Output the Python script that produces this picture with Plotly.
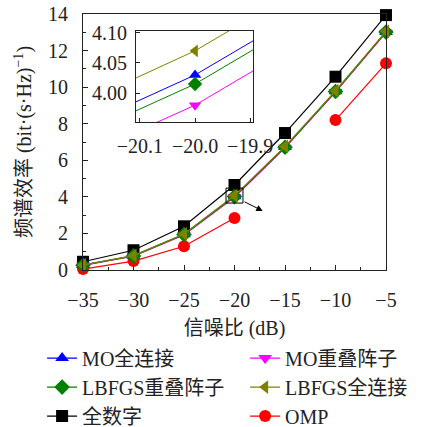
import plotly.graph_objects as go

snr = [-35, -30, -25, -20, -15, -10, -5]
full_digital = [0.45, 1.08, 2.39, 4.65, 7.49, 10.57, 13.94]
lbfgs_full = [0.28, 0.79, 1.97, 4.07, 6.76, 9.80, 13.05]
mo_full = [0.27, 0.78, 1.95, 4.03, 6.72, 9.77, 13.02]
lbfgs_overlap = [0.26, 0.77, 1.94, 4.015, 6.71, 9.76, 13.01]
mo_overlap = [0.25, 0.75, 1.92, 3.98, 6.68, 9.73, 12.98]
omp = [0.05, 0.49, 1.30, 2.84, None, 8.20, 11.30]

FONT = "Liberation Serif, Noto Sans CJK SC, serif"

series = [
    # name, values, color, symbol, legend, legendrank
    ("OMP", omp, "#FF0000", "circle", "legend2", 3),
    ("全数字", full_digital, "#000000", "square", "legend", 3),
    ("MO全连接", mo_full, "#0000FF", "triangle-up", "legend", 1),
    ("MO重叠阵子", mo_overlap, "#FF00FF", "triangle-down", "legend2", 1),
    ("LBFGS重叠阵子", lbfgs_overlap, "#008000", "diamond", "legend", 2),
    ("LBFGS全连接", lbfgs_full, "#808000", "triangle-left", "legend2", 2),
]

fig = go.Figure()
for name, vals, color, sym, leg, rank in series:
    fig.add_trace(go.Scatter(
        x=snr, y=vals, name=name, mode="lines+markers",
        line=dict(color=color, width=1.2),
        marker=dict(symbol=sym, size=12, color=color, line=dict(width=0)),
        legend=leg, legendrank=rank, connectgaps=False, cliponaxis=False,
        xaxis="x", yaxis="y",
    ))
# inset traces
for name, vals, color, sym, leg, rank in series:
    if name in ("OMP", "全数字"):
        continue
    fig.add_trace(go.Scatter(
        x=snr, y=vals, name=name, mode="lines+markers",
        line=dict(color=color, width=1),
        marker=dict(symbol=sym, size=11, color=color, line=dict(width=0)),
        showlegend=False, xaxis="x2", yaxis="y2", cliponaxis=True,
    ))

# zoom box and arrow on main plot
fig.add_shape(type="rect", xref="x", yref="y", x0=-20.84, x1=-19.16, y0=3.66, y1=4.48,
              line=dict(color="black", width=1))
fig.add_annotation(x=-17.2, y=3.23, ax=-19.16, ay=3.77, xref="x", yref="y",
                   axref="x", ayref="y", showarrow=True, arrowhead=2, arrowsize=1.3,
                   arrowwidth=1, arrowcolor="black", text="")

axis_common = dict(showline=True, linecolor="#222", linewidth=1.2, mirror=True,
                   showgrid=False, zeroline=False, ticks="inside", tickcolor="#222",
                   tickfont=dict(family=FONT, size=20, color="#222"))

legend_common = dict(orientation="v", xanchor="left", yanchor="top", y=-0.268,
                     itemwidth=30, font=dict(family=FONT, size=20, color="#222"),
                     bgcolor="rgba(0,0,0,0)", tracegroupgap=0)

fig.update_layout(
    width=422, height=427,
    margin=dict(l=83, r=36, t=14, b=157, autoexpand=False),
    paper_bgcolor="white", plot_bgcolor="white",
    font=dict(family=FONT, size=20, color="#222"),
    xaxis=dict(**axis_common, range=[-35, -5], tickvals=[-35, -30, -25, -20, -15, -10, -5],
               ticktext=["−35", "−30", "−25", "−20", "−15", "−10", "−5"],
               ticklen=5, minor=dict(ticks="inside", ticklen=3, dtick=2.5, tickcolor="#222"),
               ticklabelstandoff=12,
               title=dict(text="信噪比 (dB)", font=dict(family=FONT, size=20), standoff=10)),
    yaxis=dict(**axis_common, range=[0, 14], dtick=2, ticklen=5,
               minor=dict(ticks="inside", ticklen=3, dtick=1, tickcolor="#222"),
               ticklabelstandoff=10,
               title=dict(text="频谱效率 (bit·(s·Hz)<sup>−1</sup>)", font=dict(family=FONT, size=20), standoff=10)),
    xaxis2=dict(**axis_common, domain=[0.175, 0.561], anchor="y2", range=[-20.107, -19.895],
                tickvals=[-20.1, -20.0, -19.9], ticktext=["−20.1", "−20.0", "−19.9"],
                ticklen=4, ticklabelstandoff=6),
    yaxis2=dict(**axis_common, domain=[0.578, 0.934], anchor="x2", range=[3.952, 4.103],
                tickvals=[3.95, 4.00, 4.05, 4.10], ticktext=["3.95", "4.00", "4.05", "4.10"],
                ticklen=4, ticklabelstandoff=4),
    legend=dict(**legend_common, x=-0.135),
    legend2=dict(**legend_common, x=0.535),
    showlegend=True,
)

fig.write_html("out.html")
